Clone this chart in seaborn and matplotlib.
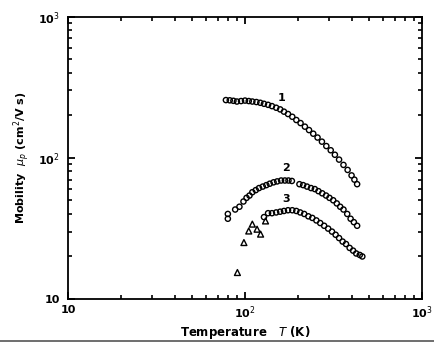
import numpy as np
import pandas as pd
import matplotlib
matplotlib.use("Agg")
import matplotlib.pyplot as plt
from matplotlib.lines import Line2D
from matplotlib.ticker import NullFormatter, FixedLocator, FixedFormatter
import seaborn as sns

# Hole mobility vs temperature for three samples
t1 = [78, 82, 86, 90, 95, 100, 105, 110, 116, 122, 128, 135, 142, 150, 158, 166,
      175, 185, 195, 206, 218, 230, 243, 257, 272, 288, 305, 322, 340, 360, 380,
      400, 415, 430]
mu1 = [256, 255, 253, 250, 252, 254, 252, 250, 248, 245, 241, 237, 232, 226, 220,
       212, 204, 195, 185, 176, 166, 157, 148, 139, 130, 121, 113, 105, 97, 89,
       82, 75, 70, 65]

t2 = [80, 80, 88, 93, 98, 102, 106, 110, 115, 120, 126, 132, 138, 145, 152, 160,
      168, 176, 184, 203, 213, 224, 236, 248, 260, 273, 287, 300, 315, 330, 345,
      360, 378, 395, 412, 430]
mu2 = [40, 37, 43, 45, 49, 52, 54, 57, 59, 61, 62.5, 64, 65.5, 67, 68, 69, 69,
       69, 68.5, 65, 64, 62.5, 61, 60, 58, 56, 54, 52, 50, 47.5, 45, 43, 40, 37,
       35, 33]

t3 = [128, 135, 142, 150, 158, 166, 175, 185, 195, 205, 216, 228, 240, 253, 266,
      280, 295, 310, 325, 340, 356, 372, 390, 408, 425, 445, 460]
mu3 = [38, 40.5, 40.5, 41, 41.5, 42, 42.5, 42.5, 42, 41, 40, 38.5, 37.5, 36,
       34.5, 33, 31.5, 30, 28.5, 27, 25.5, 24.5, 23, 22, 21, 20.5, 20]

t3_low = [90.6, 98.6, 105, 110, 117, 122.5, 130.6]
mu3_low = [15.4, 25.1, 30.3, 33.9, 31.2, 28.8, 35.7]

curve_labels = ["1", "2", "3"]
label_t = [160, 170, 170]
label_mu = [265, 85, 51]

sns.set_style("ticks")
plt.rcParams["font.family"] = ["DejaVu Sans"]

fig = plt.figure(figsize=(4.34, 3.43), dpi=100)
ax = fig.add_axes([68 / 434, 1 - 299 / 343, (422 - 68) / 434, (299 - 16.5) / 343])

circ = dict(marker="o", s=14, facecolor="none", edgecolor="black", linewidth=1.0)
for t, mu in [(t1, mu1), (t2, mu2), (t3, mu3)]:
    sns.scatterplot(x=t, y=mu, ax=ax, **circ)
sns.scatterplot(x=t3_low, y=mu3_low, ax=ax, marker="^", s=18,
                facecolor="none", edgecolor="black", linewidth=1.0)

ax.set_xscale("log")
ax.set_yscale("log")
ax.set_xlim(10, 1000)
ax.set_ylim(10, 1000)

for lab, lt, lm in zip(curve_labels, label_t, label_mu):
    ax.text(lt, lm, lab, fontsize=8, fontweight="bold", ha="center", va="center",
            color="black")

for spine in ax.spines.values():
    spine.set_linewidth(1.3)
    spine.set_color("black")
    spine.set_visible(True)

tick_vals = [10, 100, 1000]
tick_text = ["10", r"10$^2$", r"10$^3$"]
minor_vals = [m * d for d in (10, 100) for m in range(2, 10)]
for axis in (ax.xaxis, ax.yaxis):
    axis.set_major_locator(FixedLocator(tick_vals))
    axis.set_major_formatter(FixedFormatter(tick_text))
    axis.set_minor_locator(FixedLocator(minor_vals))
    axis.set_minor_formatter(NullFormatter())

ax.tick_params(which="both", direction="in", top=True, right=True,
               bottom=True, left=True, color="black", labelcolor="black",
               labelsize=8)
ax.tick_params(which="major", length=5, width=1.3)
ax.tick_params(which="minor", length=3, width=1.2)
for lbl in ax.get_xticklabels() + ax.get_yticklabels():
    lbl.set_fontweight("bold")
ax.tick_params(axis="x", which="major", pad=4)
ax.tick_params(axis="y", which="major", pad=6)

ax.set_xlabel(r"Temperature   $\mathit{T}$ (K)", fontsize=8.5, fontweight="bold",
              labelpad=2, color="black")
ax.set_ylabel(r"Mobility  $\mu_p$ (cm$^2$/V s)", fontsize=8, fontweight="bold",
              labelpad=4, color="black")

fig.add_artist(Line2D([0, 1], [2 / 343, 2 / 343], transform=fig.transFigure,
                      color="#555555", linewidth=1.2))

fig.savefig("out.png", dpi=100)
